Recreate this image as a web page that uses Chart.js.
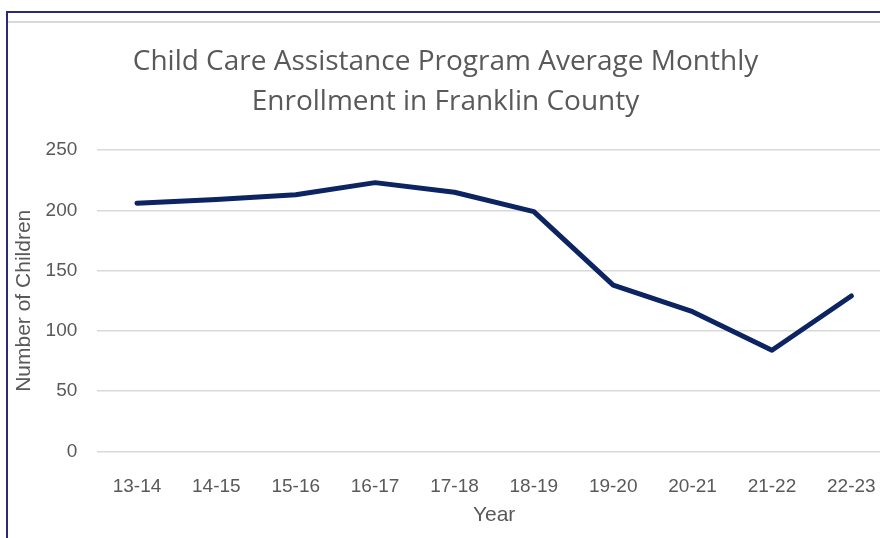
<!DOCTYPE html>
<html>
<head>
<meta charset="utf-8">
<script src="https://cdn.jsdelivr.net/npm/chart.js@4.4.1/dist/chart.umd.min.js"></script>
<style>
  html, body { margin: 0; padding: 0; width: 880px; height: 538px; overflow: hidden; background: #fff; }
  #frame { position: absolute; left: 6px; top: 11px; width: 900px; height: 560px;
           border-left: 2px solid #2a2a78; border-top: 2px solid #2a2a78; }
  #inner { position: absolute; left: 8px; top: 21px; width: 900px; height: 2px; background: #d9d9d9; }
  #wrap { position: absolute; left: 0; top: 0; width: 900px; height: 538px; }
</style>
</head>
<body>
<div id="frame"></div>
<div id="inner"></div>
<div id="wrap"><canvas id="c" width="900" height="538"></canvas></div>
<script>
const titleLines = ["Child Care Assistance Program Average Monthly", "Enrollment in Franklin County"];
const categories = ["13-14", "14-15", "15-16", "16-17", "17-18", "18-19", "19-20", "20-21", "21-22", "22-23"];
const enrollment = [206, 209, 213, 223, 215, 199, 138, 116, 84, 129];
const yTicks = [0, 50, 100, 150, 200, 250];
const xTitle = "Year";
const yTitle = "Number of Children";

const grey = "#595959";
const tickFont = { family: "'Liberation Sans', Arial, sans-serif", size: 19 };
const axisTitleFont = { family: "'Liberation Sans', Arial, sans-serif", size: 21 };

new Chart(document.getElementById("c"), {
  type: "line",
  data: {
    labels: categories,
    datasets: [{
      data: enrollment,
      borderColor: "#0d2463",
      borderWidth: 5,
      pointRadius: 0,
      tension: 0,
      fill: false,
      borderCapStyle: "round",
      borderJoinStyle: "round"
    }]
  },
  options: {
    responsive: false,
    animation: false,
    layout: { padding: { left: 0, right: 9, top: 0, bottom: 0 } },
    plugins: {
      legend: { display: false },
      tooltip: { enabled: false },
      title: {
        display: true,
        text: titleLines,
        color: grey,
        font: { family: "'Open Sans', 'Noto Sans', sans-serif", size: 28, weight: "normal", lineHeight: 1.43 },
        padding: { top: 42, bottom: 28 }
      }
    },
    scales: {
      x: {
        offset: true,
        grid: { display: false },
        border: { display: false },
        ticks: { color: grey, font: tickFont, padding: 16, maxRotation: 0 },
        title: { display: true, text: xTitle, color: grey, font: axisTitleFont, padding: { top: 0, bottom: 10 } },
        afterFit: (s) => { s.height = 86.5; }
      },
      y: {
        min: 0,
        max: 250,
        afterBuildTicks: (s) => { s.ticks = yTicks.map(v => ({ value: v })); },
        grid: { color: "#d9d9d9", lineWidth: 1.5, drawTicks: false },
        border: { display: false },
        ticks: { color: grey, font: tickFont, padding: 20 },
        title: { display: true, text: yTitle, color: grey, font: axisTitleFont, padding: { top: 12, bottom: 0 } },
        afterFit: (s) => { s.width = 97.3; }
      }
    }
  }
});
</script>
</body>
</html>
